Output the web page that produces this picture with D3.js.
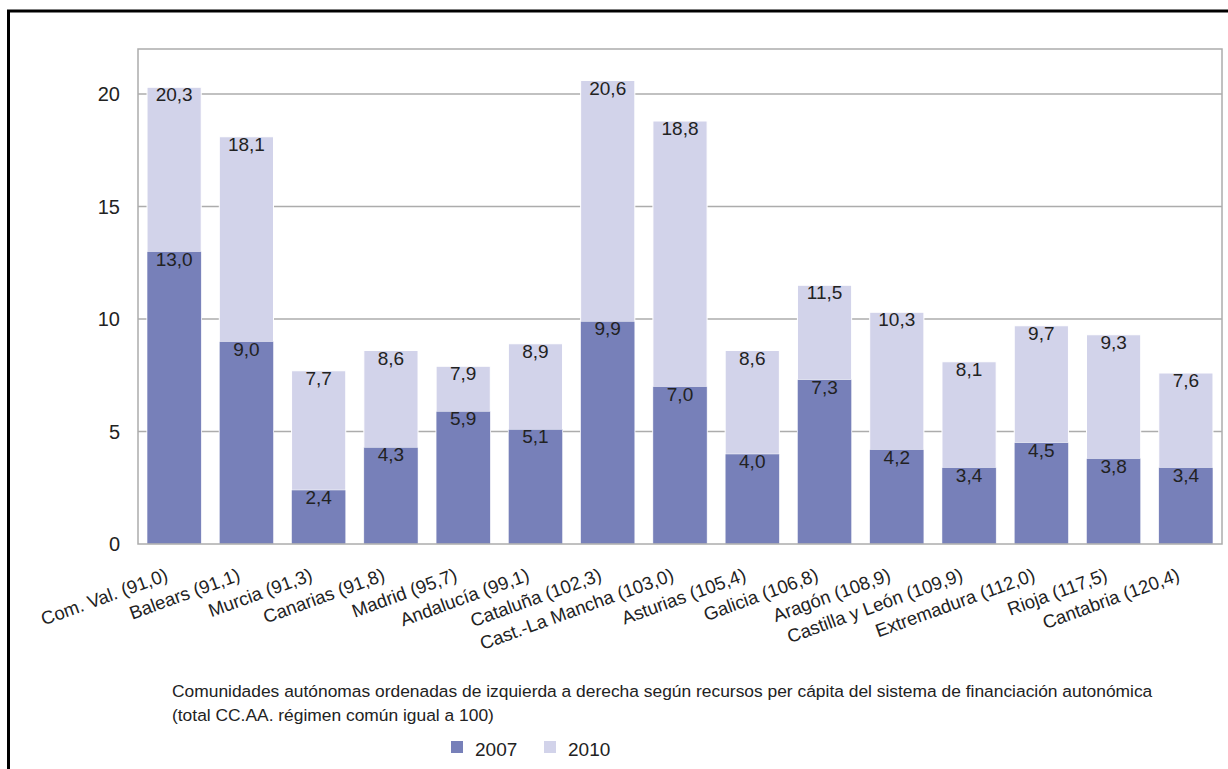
<!DOCTYPE html>
<html>
<head>
<meta charset="utf-8">
<script src="https://cdn.jsdelivr.net/npm/d3@7"></script>
<style>
  body { margin: 0; background: #fff; }
  svg text { font-family: "Liberation Sans", Arial, Helvetica, sans-serif; fill: #222; }
</style>
</head>
<body>
<div id="chart"></div>
<script>
// Data
const regions = ['Com. Val. (91,0)', 'Balears (91,1)', 'Murcia (91,3)', 'Canarias (91,8)', 'Madrid (95,7)',
                 'Andalucía (99,1)', 'Cataluña (102,3)', 'Cast.-La Mancha (103,0)', 'Asturias (105,4)', 'Galicia (106,8)',
                 'Aragón (108,9)', 'Castilla y León (109,9)', 'Extremadura (112,0)', 'Rioja (117,5)', 'Cantabria (120,4)'];
const values2007 = [13.0, 9.0, 2.4, 4.3, 5.9, 5.1, 9.9, 7.0, 4.0, 7.3, 4.2, 3.4, 4.5, 3.8, 3.4];
const values2010 = [20.3, 18.1, 7.7, 8.6, 7.9, 8.9, 20.6, 18.8, 8.6, 11.5, 10.3, 8.1, 9.7, 9.3, 7.6];
const yTicks = [0, 5, 10, 15, 20];
const seriesNames = ['2007', '2010'];
const colors = {'2007': '#7780b9', '2010': '#d2d3ea'};

const width = 1228, height = 769;
const plot = {left: 138, right: 1222, top: 49, bottom: 544};

const fmt = v => v.toFixed(1).replace('.', ',');

const svg = d3.select('#chart')
              .append('svg')
              .attr('width', width)
              .attr('height', height);

// outer frame (runs off the right and bottom edges)
svg.append('rect')
   .attr('x', 8.5).attr('y', 11)
   .attr('width', 1240).attr('height', 780)
   .style('fill', 'none')
   .style('stroke', '#000')
   .style('stroke-width', 3);

const scaleX = d3.scaleBand().domain(regions).range([plot.left, plot.right]).paddingInner(0.25).paddingOuter(0.125);
const scaleY = d3.scaleLinear().domain([0, 22]).range([plot.bottom, plot.top]);

// gridlines
svg.append('g')
   .selectAll('line')
   .data(yTicks.filter(d => d > 0))
   .enter()
   .append('line')
   .attr('x1', plot.left).attr('x2', plot.right)
   .attr('y1', d => scaleY(d)).attr('y2', d => scaleY(d))
   .style('stroke', '#acacac')
   .style('stroke-width', 1.3);

// 2010 bars behind
svg.append('g')
   .selectAll('rect')
   .data(values2010)
   .enter()
   .append('rect')
   .attr('x', (d, i) => scaleX(regions[i]))
   .attr('y', d => scaleY(d))
   .attr('width', scaleX.bandwidth())
   .attr('height', d => scaleY(0) - scaleY(d))
   .style('fill', colors['2010'])
   .style('stroke', '#fff')
   .style('stroke-width', 1);

// 2007 bars in front
svg.append('g')
   .selectAll('rect')
   .data(values2007)
   .enter()
   .append('rect')
   .attr('x', (d, i) => scaleX(regions[i]))
   .attr('y', d => scaleY(d))
   .attr('width', scaleX.bandwidth())
   .attr('height', d => scaleY(0) - scaleY(d))
   .style('fill', colors['2007'])
   .style('stroke', '#fff')
   .style('stroke-width', 0.5);

// value labels
[values2010, values2007].forEach(vals => {
    svg.append('g')
       .selectAll('text')
       .data(vals)
       .enter()
       .append('text')
       .attr('x', (d, i) => scaleX(regions[i]) + scaleX.bandwidth() / 2)
       .attr('y', d => scaleY(d) + 14)
       .style('text-anchor', 'middle')
       .style('font-size', '19px')
       .text(d => fmt(d));
});

// plot frame
svg.append('rect')
   .attr('x', plot.left).attr('y', plot.top)
   .attr('width', plot.right - plot.left).attr('height', plot.bottom - plot.top)
   .style('fill', 'none')
   .style('stroke', '#acacac')
   .style('stroke-width', 1.5);

// y axis labels
svg.append('g')
   .selectAll('text')
   .data(yTicks)
   .enter()
   .append('text')
   .attr('x', 120)
   .attr('y', d => scaleY(d) + 7)
   .style('text-anchor', 'end')
   .style('font-size', '20px')
   .text(d => d);

// x axis labels, rotated
svg.append('g')
   .selectAll('text')
   .data(regions)
   .enter()
   .append('text')
   .attr('transform', d => 'translate(' + (scaleX(d) + scaleX.bandwidth() / 2 - 5) + ',' + 580 + ') rotate(-20)')
   .style('text-anchor', 'end')
   .style('font-size', '18.5px')
   .text(d => d);

// footnote
svg.append('text')
   .attr('x', 172).attr('y', 697)
   .style('font-size', '17.4px')
   .text('Comunidades autónomas ordenadas de izquierda a derecha según recursos per cápita del sistema de financiación autonómica');
svg.append('text')
   .attr('x', 172).attr('y', 721)
   .style('font-size', '17.4px')
   .text('(total CC.AA. régimen común igual a 100)');

// legend
const legendX = [451, 544];
seriesNames.forEach((s, i) => {
    svg.append('rect')
       .attr('x', legendX[i]).attr('y', 741)
       .attr('width', 12).attr('height', 12)
       .style('fill', colors[s]);
    svg.append('text')
       .attr('x', legendX[i] + 24).attr('y', 756)
       .style('font-size', '19px')
       .text(s);
});
</script>
</body>
</html>
